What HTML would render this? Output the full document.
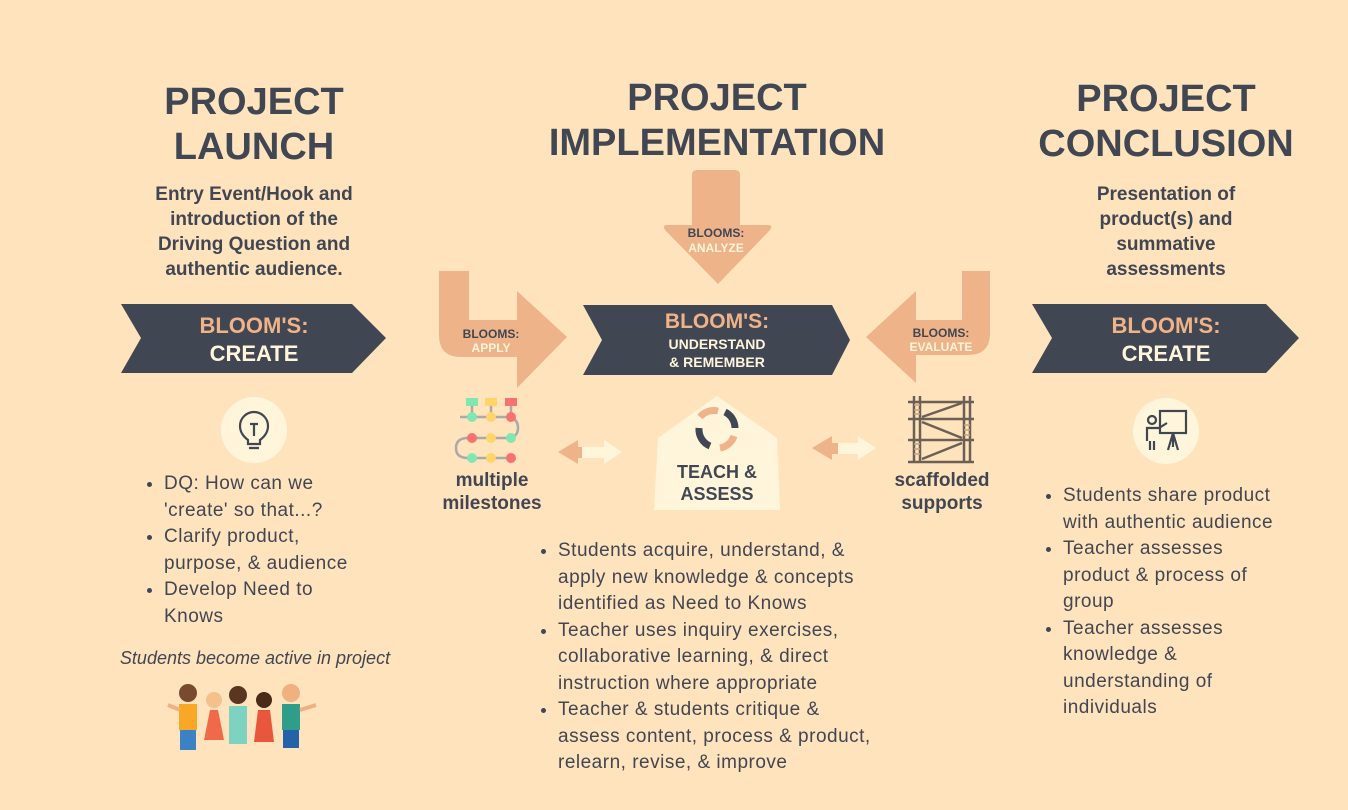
<!DOCTYPE html>
<html><head><meta charset="utf-8"><style>
body{margin:0;width:1348px;height:810px;background:#FFE3BC;position:relative;overflow:hidden;font-family:"Liberation Sans",sans-serif;color:#404652}
.a{position:absolute;text-align:center}
.t{font-weight:bold;font-size:38px;line-height:45px}
.s{font-weight:bold;font-size:19px;line-height:25px}
ul{position:absolute;margin:0;padding:0 0 0 19px;font-size:19px;line-height:26.5px;color:#404652;letter-spacing:0.5px;white-space:nowrap}
li{padding-left:0}
</style></head><body>
<svg width="1348" height="810" style="position:absolute;left:0;top:0">
<polygon points="121,304 352,304 386,338 352,373 121,373 141,338" fill="#404652"/>
<polygon points="583,305 832,305 850,340 832,375 583,375 602,340" fill="#404652"/>
<polygon points="1032,304 1266,304 1299,338 1266,373 1032,373 1052,338" fill="#404652"/>
<path d="M692,175 q0,-5 5,-5 h38 q5,0 5,5 v50 h28 q5,0 2,5 l-52,54 l-53,-54 q-3,-5 2,-5 h25z" fill="#EFB38A"/>
<path d="M439,271 h30 v49 h48 v-29 l50,46 l-50,51 v-31 h-56 q-22,0 -22,-22z" fill="#EFB38A"/>
<path d="M990,271 h-28 v49 h-46 v-29 l-50,46 l50,46 v-28 h52 q22,0 22,-22z" fill="#EFB38A"/>
<polygon points="717,396 777,438 780,510 654,510 658,438" fill="#FFF5DA"/>
<g fill="none" stroke-width="7">
<path d="M700,417 a18,18 0 0 1 18,-6" stroke="#EFB38A"/>
<path d="M725,412 a18,18 0 0 1 10,16" stroke="#404652"/>
<path d="M734,436 a18,18 0 0 1 -14,12" stroke="#EFB38A"/>
<path d="M710,446 a18,18 0 0 1 -11,-18" stroke="#404652"/>
</g>
<polygon points="558,452 578,440 578,447 600,447 600,458 578,458 578,464" fill="#EFB38A"/>
<polygon points="622,452 604,440 604,447 582,447 582,458 604,458 604,464" fill="#FFF5DA"/>
<polygon points="812,448 832,436 832,443 852,443 852,454 832,454 832,460" fill="#EFB38A"/>
<polygon points="876,448 858,436 858,443 838,443 838,454 858,454 858,460" fill="#FFF5DA"/>
<g stroke="#aaa" stroke-width="2.5" fill="none">
<path d="M460,417 h46 q12,0 12,11 q0,10 -12,10 h-38 q-12,0 -12,10 q0,10 12,10 h42"/>
<path d="M472,404 v13 M491,404 v13 M511,404 v13"/>
</g>
<rect x="466" y="398" width="12" height="8" fill="#7EE8B0"/><rect x="485" y="398" width="12" height="8" fill="#FFD56A"/><rect x="505" y="398" width="12" height="8" fill="#F87272"/>
<circle cx="472" cy="417" r="5" fill="#7EE8B0"/><circle cx="491" cy="417" r="5" fill="#FFD56A"/><circle cx="511" cy="417" r="5" fill="#F87272"/>
<circle cx="472" cy="438" r="5" fill="#F87272"/><circle cx="491" cy="438" r="5" fill="#FFD56A"/><circle cx="511" cy="438" r="5" fill="#7EE8B0"/>
<circle cx="472" cy="458" r="5" fill="#7EE8B0"/><circle cx="491" cy="458" r="5" fill="#FFD56A"/><circle cx="511" cy="458" r="5" fill="#F87272"/>
<g stroke="#6b6055" stroke-width="2.5">
<path d="M908,402 h66 M908,419 h66 M908,440 h66 M908,462 h66 M914,396 v66 M920,396 v66 M964,396 v66 M970,396 v66 M922,417 l40,-14 M922,422 l40,16 M922,459 l40,-16"/>
</g>
<g stroke="#c9a27a" stroke-width="1.5"><path d="M914,405 h6 M914,410 h6 M914,414 h6 M964,425 h6 M964,430 h6 M964,435 h6 M914,444 h6 M914,449 h6 M914,454 h6"/></g>
<circle cx="254" cy="430" r="33" fill="#FFF5DA"/>
<g fill="none" stroke="#404652" stroke-width="2.2"><path d="M248,444 v-4 q-8,-6 -8,-14 a14,14 0 0 1 28,0 q0,8 -8,14 v4z"/><path d="M250,424 h8 M254,424 v12 M249,448 h10"/></g>
<circle cx="1166" cy="431" r="33" fill="#FFF5DA"/>
<g fill="none" stroke="#404652" stroke-width="2.2"><rect x="1160" y="411" width="26" height="22"/><circle cx="1152" cy="420" r="4"/><path d="M1147,441 v-13 h12 l8,-5 M1150,441 v9 M1154,441 v9 M1173,433 l-5,17 M1173,433 l5,17 M1173,433 v14"/></g>
<g>
<circle cx="188" cy="693" r="9" fill="#7a4a2e"/><rect x="179" y="704" width="18" height="26" fill="#F9A825"/><rect x="180" y="730" width="16" height="20" fill="#3b82c4"/>
<circle cx="214" cy="700" r="8" fill="#f5c08a"/><polygon points="204,740 224,740 218,710 210,710" fill="#F06A4A"/>
<circle cx="238" cy="695" r="9" fill="#5a3520"/><rect x="229" y="706" width="18" height="38" fill="#7DD3C0"/>
<circle cx="264" cy="700" r="8" fill="#4a2a18"/><polygon points="254,742 274,742 270,710 258,710" fill="#E8573C"/>
<circle cx="291" cy="693" r="9" fill="#f0b080"/><rect x="282" y="704" width="18" height="26" fill="#2E9E8A"/><rect x="283" y="730" width="16" height="18" fill="#2563a8"/>
<path d="M168,705 l12,5 M316,705 l-16,5" stroke="#f0b080" stroke-width="4"/>
</g>
</svg>
<div class="a t" style="left:104px;width:300px;top:80px">PROJECT<br>LAUNCH</div>
<div class="a t" style="left:517px;width:400px;top:76px">PROJECT<br>IMPLEMENTATION</div>
<div class="a t" style="left:1016px;width:300px;top:77px">PROJECT<br>CONCLUSION</div>
<div class="a s" style="left:104px;width:300px;top:182px">Entry Event/Hook and<br>introduction of the<br>Driving Question and<br>authentic audience.</div>
<div class="a s" style="left:1016px;width:300px;top:182px">Presentation of<br>product(s) and<br>summative<br>assessments</div>
<div class="a" style="left:104px;width:300px;top:312px;font-weight:bold;font-size:22px;line-height:28px"><span style="color:#EFB38A">BLOOM'S:</span><br><span style="color:#FFF5DA">CREATE</span></div>
<div class="a" style="left:1016px;width:300px;top:312px;font-weight:bold;font-size:22px;line-height:28px"><span style="color:#EFB38A">BLOOM'S:</span><br><span style="color:#FFF5DA">CREATE</span></div>
<div class="a" style="left:567px;width:300px;top:310px;font-weight:bold;font-size:21px;line-height:24px;color:#EFB38A">BLOOM'S:</div>
<div class="a" style="left:567px;width:300px;top:335px;font-weight:bold;font-size:14px;line-height:18px;color:#FFF5DA">UNDERSTAND<br>&amp; REMEMBER</div>
<div class="a" style="left:666px;width:100px;top:226px;font-weight:bold;font-size:12px;line-height:15px">BLOOMS:<br><span style="color:#FFF5DA">ANALYZE</span></div>
<div class="a" style="left:441px;width:100px;top:327px;font-weight:bold;font-size:12px;line-height:14px">BLOOMS:<br><span style="color:#FFF5DA">APPLY</span></div>
<div class="a" style="left:891px;width:100px;top:326px;font-weight:bold;font-size:12px;line-height:14px">BLOOMS:<br><span style="color:#FFF5DA">EVALUATE</span></div>
<div class="a s" style="left:652px;width:130px;top:461px;font-size:18px;line-height:22px">TEACH &amp;<br>ASSESS</div>
<div class="a s" style="left:422px;width:140px;top:469px;font-size:19px;line-height:23px">multiple<br>milestones</div>
<div class="a s" style="left:872px;width:140px;top:469px;font-size:19px;line-height:23px">scaffolded<br>supports</div>
<ul style="left:145px;top:471px"><li>DQ: How can we<br>'create' so that...?</li><li>Clarify product,<br>purpose, &amp; audience</li><li>Develop Need to<br>Knows</li></ul>
<div class="a" style="left:60px;width:390px;top:648px;font-style:italic;font-size:18px">Students become active in project</div>
<ul style="left:539px;top:538px"><li>Students acquire, understand, &amp;<br>apply new knowledge &amp; concepts<br>identified as Need to Knows</li><li>Teacher uses inquiry exercises,<br>collaborative learning, &amp; direct<br>instruction where appropriate</li><li>Teacher &amp; students critique &amp;<br>assess content, process &amp; product,<br>relearn, revise, &amp; improve</li></ul>
<ul style="left:1044px;top:483px"><li>Students share product<br>with authentic audience</li><li>Teacher assesses<br>product &amp; process of<br>group</li><li>Teacher assesses<br>knowledge &amp;<br>understanding of<br>individuals</li></ul>
</body></html>
